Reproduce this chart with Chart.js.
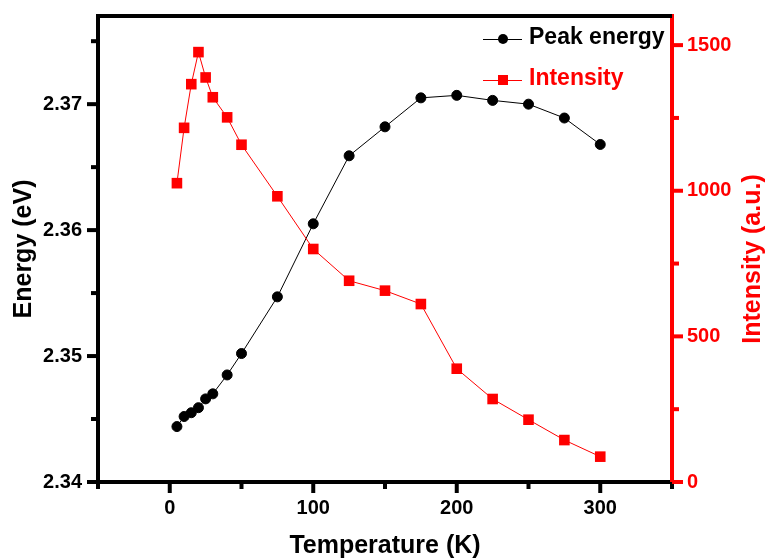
<!DOCTYPE html>
<html>
<head>
<meta charset="utf-8">
<script src="https://cdn.jsdelivr.net/npm/chart.js@4"></script>
<style>
  body { margin: 0; background: #fff; }
  canvas { display: block; }
</style>
</head>
<body>
<canvas id="tempChart" width="768" height="559"></canvas>
<script>
// data
const temperature = [5, 10, 15, 20, 25, 30, 40, 50, 75, 100, 125, 150, 175, 200, 225, 250, 275, 300];
const peakEnergy = [2.3444, 2.3452, 2.3455, 2.3459, 2.3466, 2.3470, 2.3485, 2.3502, 2.3547, 2.3605,
                    2.3659, 2.3682, 2.3705, 2.3707, 2.3703, 2.3700, 2.3689, 2.3668];
const intensity = [1026, 1216, 1366, 1476, 1389, 1321, 1252, 1158, 981, 800,
                   691, 657, 611, 389, 285, 214, 144, 87];
const legendLabels = ["Peak energy", "Intensity"];
const axisTitles = { x: "Temperature (K)", y: "Energy (eV)", y1: "Intensity (a.u.)" };

const RED = "#ff0000";
const BOLD = "'Liberation Sans', Arial, sans-serif";

const toPoints = vals => vals.map((v, i) => ({ x: temperature[i], y: v }));

// scales keep fixed sizes, no extra room for label overflow
const fixSize = (w, h) => scale => {
  if (w) scale.width = w;
  if (h) scale.height = h;
  scale.paddingTop = 0;
  scale.paddingBottom = 0;
  scale.paddingLeft = 0;
  scale.paddingRight = 0;
};

// outward ticks (long for labelled, short for minor) + top frame + right title + inner legend
const framePlugin = {
  id: 'framePlugin',
  afterDraw(chart) {
    const { ctx, chartArea: a, scales } = chart;
    ctx.save();
    ctx.lineWidth = 4;
    ctx.lineCap = 'butt';

    const drawTicks = (scale, color, fn) => {
      ctx.strokeStyle = color;
      scale.ticks.forEach(t => {
        const major = t.label !== '' && t.label !== undefined;
        const len = major ? 11 : 7;
        const p = scale.getPixelForValue(t.value);
        ctx.beginPath();
        fn(p, len);
        ctx.stroke();
      });
    };
    drawTicks(scales.x, '#000', (p, len) => { ctx.moveTo(p, a.bottom); ctx.lineTo(p, a.bottom + len); });
    drawTicks(scales.y, '#000', (p, len) => { ctx.moveTo(a.left, p); ctx.lineTo(a.left - len, p); });
    drawTicks(scales.y1, RED, (p, len) => { ctx.moveTo(a.right, p); ctx.lineTo(a.right + len, p); });

    // top frame line
    ctx.strokeStyle = '#000';
    ctx.beginPath();
    ctx.moveTo(a.left - 2, a.top);
    ctx.lineTo(a.right, a.top);
    ctx.stroke();

    // right axis title, reading bottom to top
    ctx.save();
    ctx.translate(753, 259);
    ctx.rotate(-Math.PI / 2);
    ctx.font = "bold 25px " + BOLD;
    ctx.fillStyle = RED;
    ctx.textAlign = 'center';
    ctx.textBaseline = 'middle';
    ctx.fillText(axisTitles.y1, 0, 0);
    ctx.restore();

    // legend inside plot
    const rows = [
      { text: legendLabels[0], color: '#000', y: 39, shape: 'circle' },
      { text: legendLabels[1], color: RED, y: 80, shape: 'rect' }
    ];
    rows.forEach(r => {
      ctx.strokeStyle = r.color;
      ctx.fillStyle = r.color;
      ctx.lineWidth = 1;
      ctx.beginPath();
      ctx.moveTo(483, r.y + 0.5);
      ctx.lineTo(522, r.y + 0.5);
      ctx.stroke();
      ctx.beginPath();
      if (r.shape === 'circle') {
        ctx.arc(503, r.y, 5, 0, Math.PI * 2);
      } else {
        ctx.rect(498, r.y - 5, 10, 10);
      }
      ctx.fill();
      ctx.font = "bold 23px " + BOLD;
      ctx.textAlign = 'left';
      ctx.textBaseline = 'middle';
      ctx.fillText(r.text, 529, r.y - 1);
    });
    ctx.restore();
  }
};

const chart = new Chart(document.getElementById('tempChart'), {
  type: 'line',
  data: {
    datasets: [
      {
        label: legendLabels[0],
        data: toPoints(peakEnergy),
        yAxisID: 'y',
        borderColor: '#000',
        backgroundColor: '#000',
        borderWidth: 1,
        pointStyle: 'circle',
        pointRadius: 5,
        pointBorderWidth: 1,
        pointBackgroundColor: '#000',
        pointBorderColor: '#000',
        tension: 0,
        order: 1
      },
      {
        label: legendLabels[1],
        data: toPoints(intensity),
        yAxisID: 'y1',
        borderColor: RED,
        backgroundColor: RED,
        borderWidth: 1,
        pointStyle: 'rect',
        pointRadius: 7.5,
        pointBorderWidth: 0,
        pointBackgroundColor: RED,
        tension: 0,
        order: 0
      }
    ]
  },
  options: {
    responsive: false,
    animation: false,
    layout: { padding: { top: 16, left: 0, right: 0, bottom: 0 } },
    plugins: {
      legend: { display: false },
      tooltip: { enabled: false }
    },
    scales: {
      x: {
        type: 'linear',
        position: 'bottom',
        min: -50,
        max: 350,
        afterFit: fixSize(0, 77),
        grid: { drawOnChartArea: false, drawTicks: false },
        border: { display: true, color: '#000', width: 4 },
        ticks: {
          stepSize: 50,
          includeBounds: false,
          padding: 14,
          maxRotation: 0,
          autoSkip: false,
          color: '#000',
          font: { family: BOLD, size: 20, weight: 'bold' },
          callback: v => (v % 100 === 0 ? String(v) : '')
        },
        title: {
          display: true,
          text: axisTitles.x,
          color: '#000',
          font: { family: BOLD, size: 25, weight: 'bold', lineHeight: 1 },
          padding: { top: 0, bottom: 0 }
        }
      },
      y: {
        type: 'linear',
        position: 'left',
        min: 2.34,
        max: 2.377,
        afterFit: fixSize(98, 0),
        grid: { drawOnChartArea: false, drawTicks: false },
        border: { display: true, color: '#000', width: 4 },
        ticks: {
          stepSize: 0.005,
          includeBounds: false,
          padding: 16,
          autoSkip: false,
          color: '#000',
          font: { family: BOLD, size: 20, weight: 'bold' },
          callback: v => (Math.abs(v * 100 - Math.round(v * 100)) < 1e-6 ? v.toFixed(2) : '')
        },
        title: {
          display: true,
          text: axisTitles.y,
          color: '#000',
          font: { family: BOLD, size: 25, weight: 'bold', lineHeight: 1 },
          padding: { top: 12, bottom: 0 }
        }
      },
      y1: {
        type: 'linear',
        position: 'right',
        min: 0,
        max: 1600,
        afterFit: fixSize(96, 0),
        grid: { drawOnChartArea: false, drawTicks: false },
        border: { display: true, color: RED, width: 4 },
        ticks: {
          stepSize: 250,
          includeBounds: false,
          padding: 15,
          autoSkip: false,
          color: RED,
          font: { family: BOLD, size: 20, weight: 'bold' },
          callback: v => (v % 500 === 0 ? String(v) : '')
        },
        title: { display: false }
      }
    }
  },
  plugins: [framePlugin]
});
</script>
</body>
</html>
